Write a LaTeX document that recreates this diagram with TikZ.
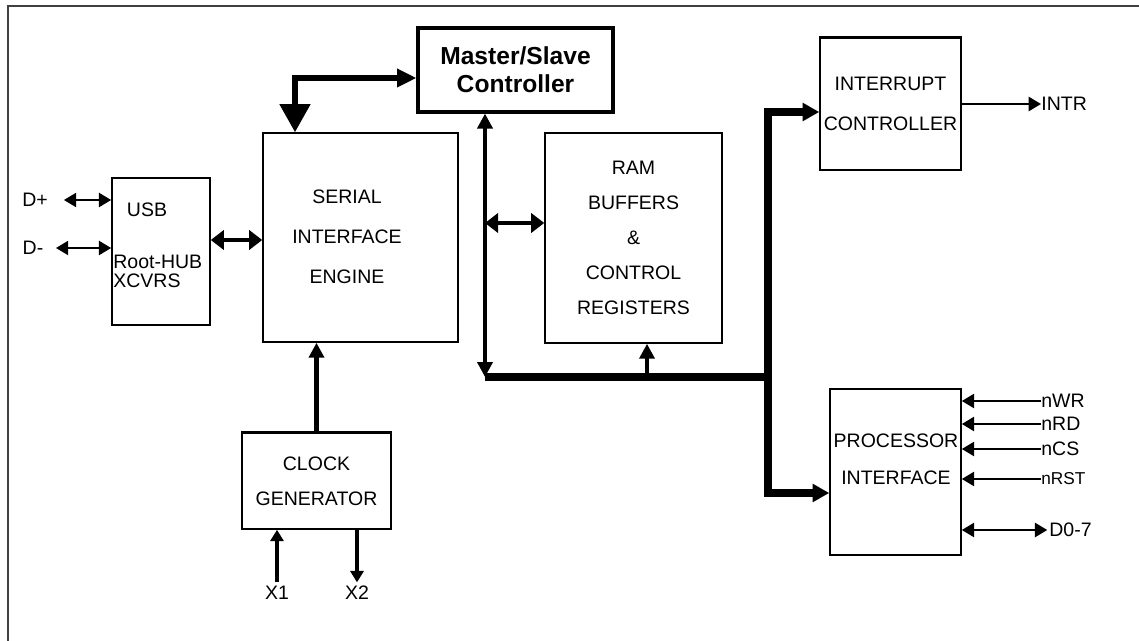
\documentclass[tikz,border=0pt]{standalone}
\usepackage{fontspec}
\setmainfont{Liberation Sans}
\usetikzlibrary{arrows.meta}

\begin{document}
\begin{tikzpicture}[x=0.02cm,y=-0.02cm,
        font=\fontsize{11.1}{20}\selectfont,
        blk/.style={draw,line width=0.9pt,inner sep=0pt,align=center},%plain block
        lbl/.style={inner sep=0pt},
        sig/.style={line width=1.3pt,>={Triangle[length=7pt,width=8pt]}},
        mid/.style={line width=2pt,>={Triangle[length=7.5pt,width=11pt]}},
        thk/.style={line width=2.4pt,>={Triangle[length=8.5pt,width=8.5pt]}},
        xin/.style={line width=1.9pt,>={Triangle[length=6.5pt,width=7.5pt]}},
        bus/.style={line width=5pt,>={Triangle[length=9.5pt,width=10pt]}},
        hbus/.style={line width=4.5pt}
                ]
\useasboundingbox (0,0) rectangle (1139,641);
\draw[line width=1.4pt,black!75] (8,641) -- (8,6) -- (1139,6);

% blocks
\node[blk,minimum width=1.96cm,minimum height=2.94cm] (usb) at (161,251.5) {};
\node[lbl] (usbtxt) at (147,210) {USB};
\node[lbl,anchor=west,align=left,font=\fontsize{11.1}{10.8}\selectfont] (hubtxt) at (113,271.5) {Root-HUB\\XCVRS};
\node[blk,minimum width=3.9cm,minimum height=4.18cm] (sie) at (360.5,237.5) {};
\node[lbl,align=center,font=\fontsize{11.1}{22.7}\selectfont] (sietxt) at (347,237) {SERIAL\\INTERFACE\\ENGINE};
\node[blk,line width=1.8pt,minimum width=3.9cm,minimum height=1.68cm,
      font=\bfseries\fontsize{14}{16}\selectfont] (ms) at (515.5,70) {Master/Slave\\Controller};
\node[blk,minimum width=3.54cm,minimum height=4.2cm] (ram) at (633.5,238) {RAM\\BUFFERS\\\&\\CONTROL\\REGISTERS};
\node[blk,minimum width=2.82cm,minimum height=2.64cm,font=\fontsize{11.1}{22.7}\selectfont] (intc) at (890.5,104) {INTERRUPT\\CONTROLLER};
\node[blk,minimum width=2.62cm,minimum height=3.32cm] (proc) at (895.5,472) {};
\node[lbl,align=center,font=\fontsize{11.1}{21}\selectfont] (proctxt) at (896,459.5) {PROCESSOR\\INTERFACE};
\node[blk,minimum width=2.98cm,minimum height=1.92cm] (clk) at (316.5,481) {CLOCK\\GENERATOR};
\draw[line width=1.8pt] (intc.north west) -- (intc.north east);
\draw[line width=1.8pt] (clk.north west) -- (clk.north east);

% pin labels
\node[lbl] (dp) at (35,200) {D+};
\node[lbl] (dm) at (33,248) {D-};
\node[lbl,anchor=west] (intr) at (1041,104) {INTR};
\node[lbl,anchor=west] (nwr) at (1041,401) {nWR};
\node[lbl,anchor=west] (nrd) at (1041,424) {nRD};
\node[lbl,anchor=west] (ncs) at (1041,449) {nCS};
\node[lbl,anchor=west,font=\fontsize{9.8}{10}\selectfont] (nrst) at (1041,479) {nRST};
\node[lbl,anchor=west] (d07) at (1049,530) {D0-7};
\node[lbl] (x1) at (277,593) {X1};
\node[lbl] (x2) at (357,593) {X2};

% bus points
\coordinate (usbio) at ([yshift=0.23cm]usb.east);
\coordinate (turn) at (295,78);
\coordinate (busL) at (485,377);
\coordinate (busR) at (768,377);
\coordinate (busT) at (768,112);
\coordinate (busB) at (768,493);
\coordinate (ramlnk) at (485,223);
\coordinate (ramtap) at (647,377);

% connections
\draw[sig,<->] ([xshift=9pt]dp.east) -- (usb.west |- dp);
\draw[sig,<->] ([xshift=7pt]dm.east) -- (usb.west |- dm);
\draw[mid,<->] (usbio) -- (usbio -| sie.west);
\draw[thk,->] (clk.north) -- (clk.north |- sie.south);
\draw[line width=3pt,{Triangle[length=16pt,width=17pt]}-{Triangle[length=11pt,width=10pt]}]
  (sie.north -| turn) -- (turn) -- (turn -| ms.west);
\draw[thk,<->] (ms.south -| busL) -- (busL);
\draw[mid,<->] (ramlnk) -- (ramlnk -| ram.west);
\draw[hbus] (busL) -- (busR);
\draw[thk,->] (ramtap) -- (ramtap |- ram.south);
\draw[bus,->] (busR) -- (busT) -- (busT -| intc.west);
\draw[bus,->] (busR) -- (busB) -- (busB -| proc.west);
\draw[sig,->] (intc.east |- intr) -- (intr.west);
\foreach \s in {nwr,nrd,ncs,nrst}
  \draw[sig,<-] (proc.east |- \s) -- (\s.west);
\draw[sig,<->] (proc.east |- d07) -- ([xshift=-1pt]d07.west);
\draw[xin,->] ([yshift=2pt]x1.north) -- (x1 |- clk.south);
\draw[xin,->] (x2 |- clk.south) -- ([yshift=2pt]x2.north);
\end{tikzpicture}
\end{document}
